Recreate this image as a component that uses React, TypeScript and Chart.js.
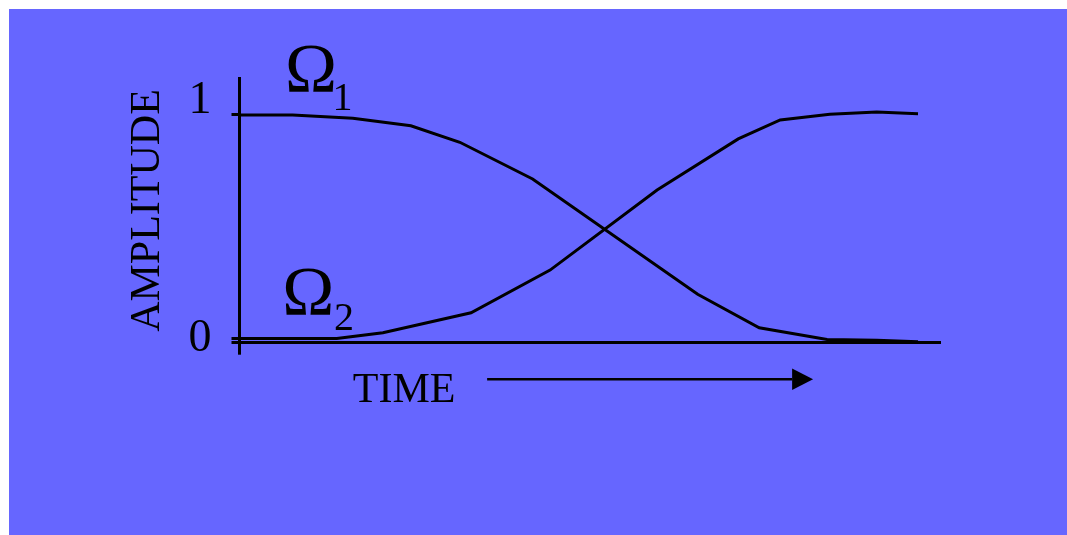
import React, { useEffect, useRef } from 'react';
import { Chart, registerables } from 'chart.js';

Chart.register(...registerables);

// Time runs 0..100 across the plot; amplitude is normalised to 0..1.
const omega1Time = [0, 7.6, 16.2, 24.5, 31.5, 41.9, 65.5, 74.3, 84.0, 91.1, 97.0];
const omega1Amp = [1.0, 1.0, 0.985, 0.952, 0.878, 0.714, 0.198, 0.048, -0.004, -0.008, -0.014];

const omega2Time = [0, 13.9, 20.5, 33.1, 44.4, 59.7, 71.3, 77.3, 84.4, 91.1, 97.0];
const omega2Amp = [0, 0, 0.026, 0.115, 0.306, 0.664, 0.893, 0.978, 1.003, 1.013, 1.006];

const amplitudeTicks = [0, 1];
const amplitudeTickLabels = ['0', '1'];
const seriesSymbols = ['Ω', 'Ω'];
const seriesSubscripts = ['1', '2'];
const yAxisTitle = 'AMPLITUDE';
const xAxisTitle = 'TIME';

const Y_MIN = -0.0188;
const Y_MAX = 1.1642;
const X_MIN = 0;
const X_MAX = 100;

const SERIF = '"Liberation Serif", "Times New Roman", Times, serif';
const BG = '#6666ff';
const INK = '#000000';
const LINE_W = 3;

// Anchors (in data units) for the hand-placed labels and the time arrow.
const seriesLabelAnchors = [
  { x: 6.5, y: 1.103, subX: 13.3, subY: 1.022 },
  { x: 6.1, y: 0.105, subX: 13.5, subY: 0.038 },
];
const timeLabelAnchor = { x: 16.2, y: -0.283 };
const timeArrow = { from: 35.4, to: 79.0, tip: 82.0, y: -0.1826, halfHead: 10.8 };

const toPoints = (xs: number[], ys: number[]) => xs.map((x, i) => ({ x, y: ys[i] }));

const annotationPlugin = {
  id: 'annotations',
  afterDatasetsDraw(chart: any) {
    const { ctx } = chart;
    const xs = chart.scales.x;
    const ys = chart.scales.y;
    const px = (v: number) => xs.getPixelForValue(v);
    const py = (v: number) => ys.getPixelForValue(v);

    ctx.save();
    ctx.fillStyle = INK;
    ctx.strokeStyle = INK;
    ctx.textAlign = 'left';
    ctx.textBaseline = 'alphabetic';

    seriesLabelAnchors.forEach((a, i) => {
      ctx.font = `70px ${SERIF}`;
      ctx.fillText(seriesSymbols[i], px(a.x), py(a.y));
      ctx.font = `40px ${SERIF}`;
      ctx.fillText(seriesSubscripts[i], px(a.subX), py(a.subY));
    });

    ctx.font = `42px ${SERIF}`;
    ctx.fillText(xAxisTitle, px(timeLabelAnchor.x), py(timeLabelAnchor.y));

    const ay = py(timeArrow.y);
    ctx.lineWidth = 2.5;
    ctx.beginPath();
    ctx.moveTo(px(timeArrow.from), ay);
    ctx.lineTo(px(timeArrow.to), ay);
    ctx.stroke();
    ctx.beginPath();
    ctx.moveTo(px(timeArrow.to), ay - timeArrow.halfHead);
    ctx.lineTo(px(timeArrow.tip), ay);
    ctx.lineTo(px(timeArrow.to), ay + timeArrow.halfHead);
    ctx.closePath();
    ctx.fill();

    ctx.restore();
  },
};

export default function App() {
  const canvasRef = useRef<HTMLCanvasElement | null>(null);

  useEffect(() => {
    const canvas = canvasRef.current;
    if (!canvas) return;

    const chart = new Chart(canvas, {
      type: 'line',
      data: {
        datasets: [
          {
            label: 'Ω1',
            data: toPoints(omega1Time, omega1Amp),
            borderColor: INK,
            borderWidth: LINE_W,
            pointRadius: 0,
            tension: 0,
            fill: false,
          },
          {
            label: 'Ω2',
            data: toPoints(omega2Time, omega2Amp),
            borderColor: INK,
            borderWidth: LINE_W,
            pointRadius: 0,
            tension: 0,
            fill: false,
          },
        ],
      },
      options: {
        responsive: false,
        animation: false,
        devicePixelRatio: 1,
        layout: { padding: { left: 0, top: 69.3, right: 128, bottom: 0 } },
        plugins: {
          legend: { display: false },
          tooltip: { enabled: false },
        },
        scales: {
          x: {
            type: 'linear',
            min: X_MIN,
            max: X_MAX,
            afterBuildTicks: (s: any) => {
              s.ticks = [{ value: X_MIN }];
            },
            afterFit: (s: any) => {
              s.height = 192.3;
            },
            border: { display: true, color: INK, width: LINE_W },
            grid: {
              drawOnChartArea: false,
              drawTicks: true,
              tickLength: 12,
              tickColor: INK,
              tickWidth: LINE_W,
              lineWidth: LINE_W,
            },
            ticks: { display: false },
          },
          y: {
            type: 'linear',
            min: Y_MIN,
            max: Y_MAX,
            afterBuildTicks: (s: any) => {
              s.ticks = [{ value: Y_MIN }, ...amplitudeTicks.map((v) => ({ value: v }))];
            },
            afterFit: (s: any) => {
              s.width = 230.5;
            },
            border: { display: true, color: INK, width: LINE_W },
            grid: {
              drawOnChartArea: false,
              drawTicks: true,
              tickLength: 8,
              tickColor: INK,
              tickWidth: LINE_W,
              lineWidth: LINE_W,
            },
            ticks: {
              color: INK,
              padding: 20,
              // the "1" sits above its tick mark: a blank second line lifts it
              font: (c: any) => ({
                family: SERIF,
                size: 46,
                lineHeight: c.tick && c.tick.value === 1 ? '28px' : 1.2,
              }),
              callback: (value: any) => {
                const i = amplitudeTicks.indexOf(Number(value));
                if (i < 0) return '';
                return value === 1 ? [amplitudeTickLabels[i], ''] : amplitudeTickLabels[i];
              },
            },
            title: {
              display: true,
              text: yAxisTitle,
              color: INK,
              font: { family: SERIF, size: 42 },
              padding: { top: 114, bottom: 0 },
            },
          },
        },
      },
      plugins: [annotationPlugin],
    } as any);

    return () => chart.destroy();
  }, []);

  return (
    <div
      style={{
        position: 'fixed',
        left: 9,
        top: 9,
        width: 1058,
        height: 526,
        background: BG,
      }}
    >
      <canvas ref={canvasRef} width={1058} height={526} style={{ display: 'block' }} />
    </div>
  );
}
